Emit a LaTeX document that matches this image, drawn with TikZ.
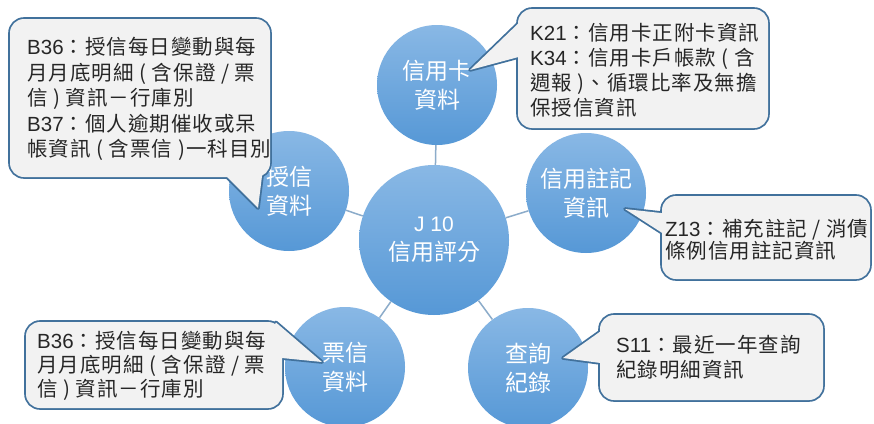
\documentclass[tikz,border=0pt]{standalone}
\usepackage{fontspec}
\newfontfamily\cjk{Noto Sans CJK TC}
\newfontfamily\cjkls[LetterSpace=5]{Noto Sans CJK TC}
\newfontfamily\lat{Liberation Sans}
\definecolor{bubtop}{RGB}{137,184,229}
\definecolor{bubbot}{RGB}{86,152,214}
\definecolor{linkcol}{RGB}{140,172,202}
\definecolor{cborder}{RGB}{65,113,156}
\definecolor{cfill}{RGB}{242,242,242}
\definecolor{ctext}{RGB}{38,38,38}
\tikzset{
  bub/.style={circle, draw=none, shading=axis, top color=bubtop, bottom color=bubbot,
    minimum size=120pt, inner sep=0pt, align=center, text=white,
    font=\cjk\fontsize{23}{29}\selectfont},
  link/.style={draw=linkcol, line width=1.5pt},
  cbord/.style={draw=cborder, line width=3.6pt, line join=round},
  cfillst/.style={fill=cfill},
  ctxt/.style={anchor=west, inner sep=0pt, align=left, text=ctext},
}
\begin{document}
\begin{tikzpicture}[x=1pt,y=-1pt]
\useasboundingbox (0,0) rectangle (874,423);
\clip (0,0) rectangle (874,423);
\fill[white] (0,0) rectangle (874,423);
% circles
\node[bub, minimum size=150pt] (c) at (434,240) {{\lat\fontsize{21}{27}\selectfont J 10}\\信用評分};
\node[bub] (k) at (437,85) {信用卡\\資料};
\node[bub] (z) at (586,193) {信用註記\\資訊};
\node[bub] (s) at (528,368) {查詢\\紀錄};
\node[bub] (t) at (345,367) {票信\\資料};
\node[bub] (b) at (289,191) {授信\\資料};
% connectors
\draw[link] (c) -- (k);
\draw[link] (c) -- (z);
\draw[link] (c) -- (s);
\draw[link] (c) -- (t);
\draw[link] (c) -- (b);
% callout 1 (top left)
\draw[cbord, rounded corners=14pt] (10,19) rectangle (270,177);
\draw[cbord] (222,172) -- (258,208) -- (263,168) -- cycle;
\fill[cfillst, rounded corners=14pt] (10,19) rectangle (270,177);
\fill[cfillst] (222,172) -- (258,208) -- (263,168) -- cycle;
\node[ctxt, font=\cjkls\fontsize{20.5}{25.5}\selectfont] (t1) at (27,99)
  {{\lat B36}：授信每日變動與每\\月月底明細 ( 含保證 / 票\\信 ) 資訊－行庫別\\{\lat B37}：個人逾期催收或呆\\帳資訊 ( 含票信 )一科目別};
% callout 2 (K21)
\draw[cbord, rounded corners=14pt] (518,9) rectangle (768,128);
\draw[cbord] (526,16) -- (470,70) -- (526,55) -- cycle;
\fill[cfillst, rounded corners=14pt] (518,9) rectangle (768,128);
\fill[cfillst] (526,16) -- (470,70) -- (526,55) -- cycle;
\node[ctxt, font=\cjkls\fontsize{20.5}{25}\selectfont] (t2) at (530,70)
  {{\lat K21}：信用卡正附卡資訊\\{\lat K34}：信用卡戶帳款 ( 含\\週報 )、循環比率及無擔\\保授信資訊};
% callout 3 (Z13)
\draw[cbord, rounded corners=14pt] (662,196) rectangle (870,279);
\draw[cbord] (670,214) -- (625,209) -- (670,238) -- cycle;
\fill[cfillst, rounded corners=14pt] (662,196) rectangle (870,279);
\fill[cfillst] (670,214) -- (625,209) -- (670,238) -- cycle;
\node[ctxt, font=\cjkls\fontsize{20.5}{22}\selectfont] (t3) at (665,240)
  {{\lat Z13}：補充註記 / 消債\\條例信用註記資訊};
% callout 4 (B36 bottom)
\draw[cbord, rounded corners=14pt] (26,322) rectangle (282,408);
\draw[cbord] (322,362) -- (276,322.5) -- (266,340) -- (272,357) -- cycle;
\fill[cfillst, rounded corners=14pt] (26,322) rectangle (282,408);
\fill[cfillst] (322,362) -- (276,322.5) -- (266,340) -- (272,357) -- cycle;
\node[ctxt, font=\cjkls\fontsize{20.5}{24}\selectfont] (t4) at (37,366)
  {{\lat B36}：授信每日變動與每\\月月底明細 ( 含保證 / 票\\信 ) 資訊－行庫別};
% callout 5 (S11)
\draw[cbord, rounded corners=14pt] (600,315) rectangle (823,400);
\draw[cbord] (608,326) -- (563,358) -- (608,364) -- cycle;
\fill[cfillst, rounded corners=14pt] (600,315) rectangle (823,400);
\fill[cfillst] (608,326) -- (563,358) -- (608,364) -- cycle;
\node[ctxt, font=\cjkls\fontsize{20.5}{25}\selectfont] (t5) at (616,357)
  {{\lat S11}：最近一年查詢\\紀錄明細資訊};
\end{tikzpicture}
\end{document}
